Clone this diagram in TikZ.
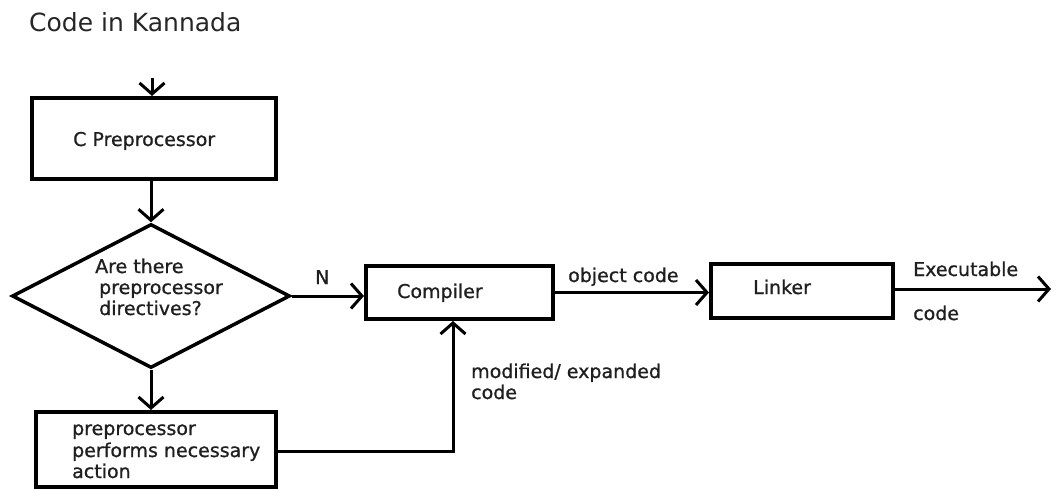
\documentclass[tikz,border=0pt]{standalone}
\usepackage{fontspec}
\setmainfont{DejaVu Sans}
\newfontfamily\lblfont{DejaVu Sans}[FakeBold=0.9]
\usetikzlibrary{arrows.meta,shapes.geometric}
\begin{document}
\begin{tikzpicture}[x=1pt,y=-1pt,
  box/.style={draw,line width=4pt,rectangle,inner sep=0pt},
  conn/.style={line width=3pt,-{Straight Barb[length=11pt,width=25pt,line width=3pt]}},
  lbl/.style={font=\lblfont\fontsize{19}{22}\selectfont,text=black!88,inner sep=0pt,anchor=base west},
]
\useasboundingbox (0,0) rectangle (1052,489);
\node[inner sep=0pt,anchor=base west,text=black!85,font=\fontsize{25}{30}\selectfont] (title) at (29,32) {Code in Kannada};

% nodes
\node[box,minimum width=244pt,minimum height=81pt] (cpp) at (154,138.5) {};
\node[lbl] (cpptxt) at (73,146) {C Preprocessor};
\node[draw,line width=3.5pt,diamond,minimum width=278pt,minimum height=144pt,inner sep=0pt] (dia) at (151,296) {};
\node[lbl] (d1) at (95,273) {Are there};
\node[lbl] (d2) at (99,294) {preprocessor};
\node[lbl] (d3) at (99,315) {directives?};
\node[box,minimum width=240pt,minimum height=75pt] (act) at (156,449.5) {};
\node[lbl] (a1) at (72,435) {preprocessor};
\node[lbl] (a2) at (72,457) {performs necessary};
\node[lbl] (a3) at (72,478) {action};
\node[box,minimum width=187pt,minimum height=53pt] (comp) at (459.5,292.5) {};
\node[lbl] (comptxt) at (397,298) {Compiler};
\node[box,minimum width=182pt,minimum height=54pt] (link) at (802,291) {};
\node[lbl] (linktxt) at (753,294) {Linker};

% connectors
\coordinate (start) at (152,78);
\draw[conn] (start) -- (start |- cpp.north);
\draw[conn] (dia.north |- cpp.south) -- (dia.north);
\draw[conn] (dia.south) -- (dia.south |- act.north);
\draw[conn] (dia.east) -- (dia.east -| comp.west);
\node[lbl] (nlbl) at (315,284) {N};
\draw[conn] (comp.east) -- (comp.east -| link.west);
\node[lbl] (objlbl) at (568,282) {object code};
\coordinate (end) at (1051,289);
\draw[conn] (link.east |- end) -- (end);
\node[lbl] (exe1) at (913,276) {Executable};
\node[lbl] (exe2) at (913,320) {code};
\coordinate (fb) at (453,451);
\draw[conn] (act.east |- fb) -- (fb) -- (fb |- comp.south);
\node[lbl] (mod1) at (471,378) {modified/ expanded};
\node[lbl] (mod2) at (471,399) {code};
\end{tikzpicture}
\end{document}
